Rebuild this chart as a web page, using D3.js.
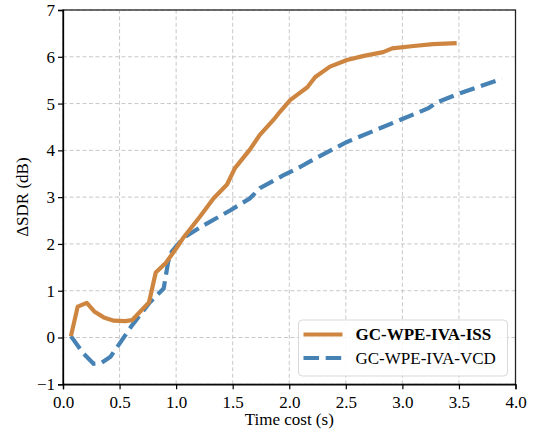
<!DOCTYPE html>
<html>
<head>
    <meta charset="utf-8">
    <script src="https://d3js.org/d3.v7.min.js"></script>
    <style>
        body { margin: 0; background: #fff; }
    </style>
</head>
<body>
<div id="chart"></div>
<script>
    // series
    const issTime = [0.07, 0.13, 0.21, 0.28, 0.36, 0.45, 0.55, 0.61, 0.76, 0.82, 0.91, 1.0, 1.06, 1.21, 1.33, 1.45, 1.52, 1.65, 1.74, 1.86, 1.92, 2.01, 2.16, 2.23, 2.36, 2.51, 2.66, 2.83, 2.91, 3.1, 3.27, 3.48];
    const issSdr = [0.03, 0.66, 0.74, 0.55, 0.43, 0.36, 0.35, 0.37, 0.75, 1.39, 1.6, 1.9, 2.12, 2.58, 2.97, 3.27, 3.62, 4.01, 4.33, 4.65, 4.83, 5.08, 5.35, 5.57, 5.79, 5.93, 6.02, 6.1, 6.18, 6.23, 6.27, 6.29];
    const vcdTime = [0.07, 0.18, 0.27, 0.34, 0.42, 0.5, 0.61, 0.76, 0.89, 0.93, 0.96, 1.06, 1.21, 1.48, 1.65, 1.74, 1.95, 2.1, 2.18, 2.51, 3.01, 3.23, 3.3, 3.51, 3.88];
    const vcdSdr = [0.03, -0.34, -0.56, -0.54, -0.41, -0.13, 0.26, 0.73, 1.05, 1.62, 1.83, 2.12, 2.35, 2.72, 2.97, 3.19, 3.47, 3.65, 3.76, 4.18, 4.68, 4.9, 5.02, 5.22, 5.53];
    const seriesNames = ["GC-WPE-IVA-ISS", "GC-WPE-IVA-VCD"];
    const xTicks = [0, 0.5, 1, 1.5, 2, 2.5, 3, 3.5, 4];
    const yTicks = [-1, 0, 1, 2, 3, 4, 5, 6, 7];

    const width = 536, height = 434;
    const margin = { top: 10, right: 20.5, bottom: 49.7, left: 63 };
    const FONT = "Liberation Serif";

    const svg = d3.select("#chart").append("svg")
        .attr("width", width).attr("height", height)
        .attr("font-family", FONT);

    const x = d3.scaleLinear().domain([0, 4]).range([margin.left, width - margin.right]);
    const y = d3.scaleLinear().domain([-1, 7]).range([height - margin.bottom, margin.top]);

    // grid
    const grid = svg.append("g");
    grid.selectAll(".gx").data(xTicks).enter().append("line")
        .attr("x1", d => x(d)).attr("x2", d => x(d))
        .attr("y1", y(-1)).attr("y2", y(7))
        .attr("stroke", "#c8c8c8").attr("stroke-width", 1).attr("stroke-dasharray", "4,2.5");
    grid.selectAll(".gy").data(yTicks).enter().append("line")
        .attr("y1", d => y(d)).attr("y2", d => y(d))
        .attr("x1", x(0)).attr("x2", x(4))
        .attr("stroke", "#c8c8c8").attr("stroke-width", 1).attr("stroke-dasharray", "4,2.5");

    // lines
    const iss = issTime.map((t, i) => [t, issSdr[i]]);
    const vcd = vcdTime.map((t, i) => [t, vcdSdr[i]]);
    const line = d3.line().x(d => x(d[0])).y(d => y(d[1]));

    svg.append("path").datum(vcd).attr("d", line)
        .attr("fill", "none").attr("stroke", "steelblue").attr("stroke-width", 4.2)
        .attr("stroke-dasharray", "15.5,6.7");
    svg.append("path").datum(iss).attr("d", line)
        .attr("fill", "none").attr("stroke", "peru").attr("stroke-width", 4.2)
        .attr("stroke-linejoin", "round");

    // frame
    svg.append("rect")
        .attr("x", x(0)).attr("y", y(7))
        .attr("width", x(4) - x(0)).attr("height", y(-1) - y(7))
        .attr("fill", "none").attr("stroke", "#222").attr("stroke-width", 1.3);

    // axes
    const xAxis = svg.append("g")
        .attr("transform", "translate(0," + y(-1) + ")")
        .call(d3.axisBottom(x).tickValues(xTicks).tickFormat(d3.format(".1f")).tickSizeOuter(0).tickSize(5));
    const yAxis = svg.append("g")
        .attr("transform", "translate(" + x(0) + ",0)")
        .call(d3.axisLeft(y).tickValues(yTicks).tickFormat(d => d < 0 ? "\u2212" + Math.abs(d) : d).tickSizeOuter(0).tickSize(5));
    [xAxis, yAxis].forEach(a => {
        a.attr("font-family", FONT).attr("font-size", 17);
        a.select(".domain").attr("stroke", "#000").attr("stroke-width", 1.3);
        a.selectAll(".tick line").attr("stroke", "#000").attr("stroke-width", 1.2);
        a.selectAll("text").attr("fill", "#000").attr("font-family", FONT);
    });
    xAxis.selectAll("text").attr("dy", "0.9em");
    yAxis.selectAll("text").attr("x", -8);

    svg.append("text")
        .attr("x", (x(0) + x(4)) / 2).attr("y", 425)
        .attr("text-anchor", "middle").attr("font-size", 17)
        .text("Time cost (s)");
    svg.append("text")
        .attr("transform", "translate(22," + y(3) + ") rotate(-90)")
        .attr("text-anchor", "middle").attr("dy", "0.35em").attr("font-size", 17)
        .text("\u0394SDR (dB)");

    // legend
    const legend = svg.append("g").attr("transform", "translate(298.5,320)");
    legend.append("rect")
        .attr("width", 209).attr("height", 56).attr("rx", 4)
        .attr("fill", "#fff").attr("fill-opacity", 0.85)
        .attr("stroke", "#d9d9d9").attr("stroke-width", 1);
    const items = [
        { name: seriesNames[0], color: "peru", dash: null, bold: true },
        { name: seriesNames[1], color: "steelblue", dash: "15.5,6.7", bold: false }
    ];
    items.forEach((it, i) => {
        const yy = 14.5 + i * 23.5;
        legend.append("line")
            .attr("x1", 5).attr("x2", 44).attr("y1", yy).attr("y2", yy)
            .attr("stroke", it.color).attr("stroke-width", 4.2)
            .attr("stroke-dasharray", it.dash);
        legend.append("text")
            .attr("x", 57).attr("y", yy).attr("dy", "0.35em")
            .attr("font-size", 17).attr("font-weight", it.bold ? "bold" : "normal")
            .text(it.name);
    });
</script>
</body>
</html>
